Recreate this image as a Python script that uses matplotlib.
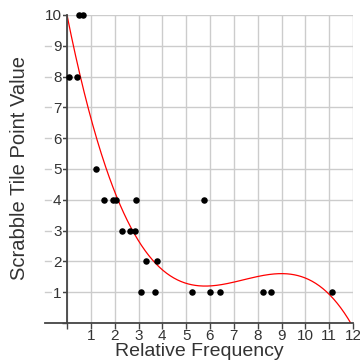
import numpy as np
import matplotlib.pyplot as plt
from matplotlib.transforms import blended_transform_factory

plt.rcParams['font.family'] = ['Liberation Sans', 'DejaVu Sans']

# ===================== ДАННЫЕ =====================
# относительная частота буквы и очки за фишку
freq = [0.5, 0.67,
        0.1, 0.4,
        1.22,
        1.55, 1.95, 2.05, 2.9, 5.75,
        2.31, 2.65, 2.86,
        3.32, 3.76,
        3.12, 3.7, 5.24, 6.02, 6.4, 8.22, 8.56, 11.1]
points = [10, 10,
          8, 8,
          5,
          4, 4, 4, 4, 4,
          3, 3, 3,
          2, 2,
          1, 1, 1, 1, 1, 1, 1, 1]

# коэффициенты кубической аппроксимации (a, b, c, d)
fit_coef = [-0.02468, 0.5479, -3.865, 10.0]

xticks = list(range(0, 13))
yticks = list(range(0, 11))

# ===================== ГРАФИК =====================
W, H = 360, 362
ax_l, ax_r, ax_t, ax_b = 67, 353, 15, 323
fig = plt.figure(figsize=(W / 100, H / 100), dpi=100)
ax = fig.add_axes([ax_l / W, 1 - ax_b / H, (ax_r - ax_l) / W, (ax_b - ax_t) / H])

ax.set_xlim(0, 12)
ax.set_ylim(0, 10)

grid_c = '#cccccc'
axis_c = '#444444'
text_c = '#333333'

ax.grid(True, color=grid_c, linewidth=1.0)
ax.set_axisbelow(True)

# горизонтальные линии сетки продолжаются влево за ось
ext = -22 / (ax_r - ax_l)
trans = blended_transform_factory(ax.transAxes, ax.transData)
for t in yticks:
    ax.plot([ext, 0], [t, t], transform=trans, clip_on=False,
            color=axis_c if t == 0 else grid_c, linewidth=1.3 if t == 0 else 1.0,
            zorder=0.5)

xs = np.linspace(0, 12, 400)
ax.plot(xs, np.polyval(fit_coef, xs), color='red', linewidth=0.9, zorder=2)
ax.scatter(freq, points, s=22, color='black', zorder=3, linewidths=0, clip_on=False)

ax.set_xticks(xticks)
ax.set_xticklabels(['' if t == 0 else str(t) for t in xticks])
ax.set_yticks(yticks)
ax.set_yticklabels(['' if t == 0 else str(t) for t in yticks])

ax.tick_params(axis='x', direction='out', length=4, width=1, color=axis_c,
               pad=0.5, labelsize=11, labelcolor=text_c)
ax.tick_params(axis='y', direction='out', length=3.6, width=1, color=axis_c,
               pad=0.3, labelsize=11, labelcolor=text_c)
for lab in ax.get_yticklabels():
    lab.set_bbox(dict(facecolor='white', edgecolor='none', pad=0.8))

for side in ['top', 'right']:
    ax.spines[side].set_visible(False)
for side in ['left', 'bottom']:
    ax.spines[side].set_color(axis_c)
    ax.spines[side].set_linewidth(1.3)

fig.text(199 / W, 1 - 356 / H, 'Relative Frequency', ha='center', va='baseline',
         fontsize=14, color=text_c)
fig.text(19.5 / W, 1 - 167.5 / H, 'Scrabble Tile Point Value', ha='center', va='center',
         rotation=90, fontsize=14.5, color=text_c)

fig.savefig('out.png', dpi=100)
